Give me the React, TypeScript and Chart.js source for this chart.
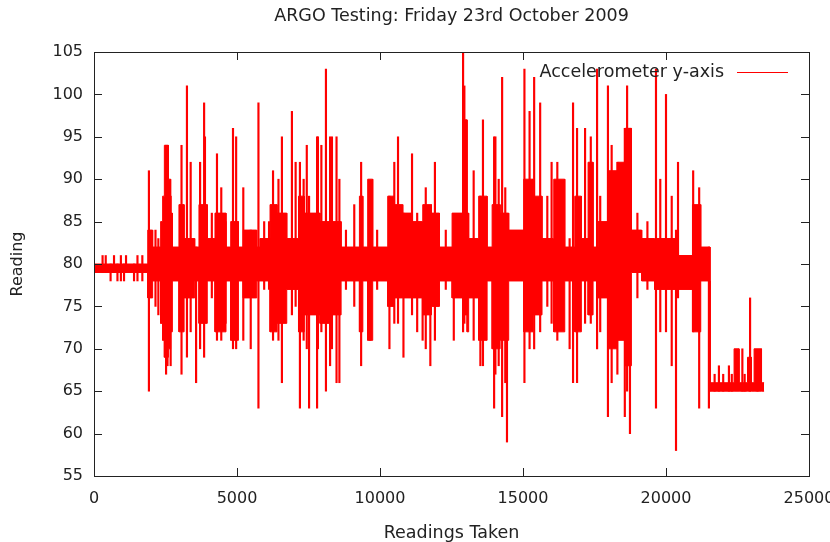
import React, { useEffect, useRef } from 'react';
import { Chart, registerables } from 'chart.js';

Chart.register(...registerables);

const TITLE = 'ARGO Testing: Friday 23rd October 2009';
const SERIES_LABEL = 'Accelerometer y-axis';
const X_TITLE = 'Readings Taken';
const Y_TITLE = 'Reading';
const X_TICKS = [0, 5000, 10000, 15000, 20000, 25000];
const Y_TICKS = [55, 60, 65, 70, 75, 80, 85, 90, 95, 100, 105];

// Dense band envelope: segment start reading, lower and upper edge (last entry = end of data)
const bandX = [0, 1880, 2050, 2330, 2400, 2460, 2600, 2680, 2740, 2970, 3150, 3520, 3670, 3960, 4230, 4615, 4780, 5050, 5220, 5690, 5800, 6155, 6400, 6740, 7150, 7350, 7550, 7900, 8300, 8640, 9280, 9400, 9570, 9745, 10270, 10500, 10795, 11100, 11495, 11800, 12080, 12520, 12890, 13045, 13100, 13450, 13745, 13920, 14200, 14500, 15025, 15350, 15665, 16075, 16460, 16810, 17040, 17275, 17450, 17625, 17975, 18300, 18560, 18790, 19150, 19600, 20400, 20925, 21215, 21540, 22380, 22555, 22850, 22990, 23080, 23340, 23430];
const bandLo = [79, 76, 78, 73, 71, 69, 70, 72, 78, 72, 76, 78, 73, 78, 72, 78, 71, 78, 76, 78, 78, 72, 73, 77, 72, 74, 74, 73, 74, 78, 72, 78, 71, 78, 75, 76, 76, 76, 74, 75, 78, 76, 74, 72, 76, 71, 78, 70, 71, 78, 72, 74, 78, 72, 78, 72, 78, 74, 78, 76, 70, 71, 68, 79, 78, 77, 77, 72, 78, 65, 65, 65, 65, 65, 65, 65, 65];
const bandHi = [80, 84, 82, 85, 88, 94, 90, 86, 82, 87, 83, 82, 87, 83, 86, 82, 85, 82, 84, 82, 83, 87, 86, 83, 88, 86, 86, 85, 85, 82, 88, 82, 90, 82, 88, 87, 86, 85, 87, 86, 82, 86, 97, 86, 83, 88, 82, 87, 86, 84, 90, 88, 83, 90, 82, 88, 83, 92, 82, 85, 91, 92, 96, 84, 83, 83, 81, 87, 82, 66, 70, 66, 69, 66, 70, 66, 66];

// Isolated spikes: reading, lowest and highest value reached
const spikeX = [300, 410, 580, 700, 820, 940, 1050, 1120, 1400, 1520, 1690, 1920, 2150, 2250, 2520, 2570, 2680, 3060, 3250, 3380, 3570, 3710, 3850, 3880, 4120, 4300, 4450, 4600, 4860, 4970, 5220, 5480, 5750, 5950, 6120, 6260, 6450, 6570, 6920, 7050, 7200, 7330, 7440, 7520, 7800, 7830, 7950, 8110, 8255, 8320, 8480, 8580, 8810, 9100, 9340, 9650, 9900, 10330, 10500, 10630, 10820, 11120, 11300, 11490, 11600, 11760, 11920, 12300, 12580, 12905, 12950, 13275, 13510, 13600, 13990, 14035, 14150, 14270, 14380, 14440, 15050, 15230, 15390, 15600, 15850, 16000, 16200, 16630, 16750, 16890, 17170, 17370, 17590, 17700, 17970, 18100, 18300, 18560, 18640, 18740, 19000, 19350, 19650, 19800, 20000, 20200, 20350, 20420, 20950, 21160, 21500, 21700, 21850, 22000, 22200, 22300, 22670, 22750, 22940, 23200];
const spikeLo = [79, 79, 78, 79, 78, 78, 78, 79, 78, 78, 78, 65, 75, 74, 67, 68, 68, 67, 69, 72, 66, 70, 69, 74, 76, 71, 71, 73, 70, 70, 71, 70, 63, 77, 77, 71, 71, 66, 74, 75, 63, 71, 70, 63, 63, 70, 72, 65, 68, 70, 66, 66, 77, 75, 68, 71, 77, 70, 73, 73, 69, 74, 72, 71, 70, 68, 71, 77, 71, 72, 73, 71, 68, 68, 63, 67, 68, 62, 66, 59, 66, 70, 70, 72, 75, 73, 71, 70, 66, 66, 73, 73, 70, 72, 62, 66, 67, 62, 65, 60, 76, 77, 63, 72, 72, 68, 58, 76, 72, 63, 63, 65, 65, 65, 65, 65, 65, 65, 65, 65];
const spikeHi = [81, 81, 80, 81, 80, 81, 80, 81, 80, 81, 81, 91, 84, 83, 94, 94, 88, 94, 101, 92, 82, 92, 99, 95, 86, 93, 89, 85, 96, 95, 89, 84, 99, 85, 85, 91, 90, 95, 98, 92, 92, 90, 94, 88, 95, 95, 94, 103, 95, 95, 95, 90, 84, 87, 92, 89, 84, 88, 92, 95, 86, 93, 86, 84, 89, 86, 92, 84, 84, 105, 101, 91, 88, 97, 95, 95, 90, 102, 89, 84, 103, 98, 102, 99, 88, 92, 92, 83, 99, 96, 96, 95, 103, 88, 101, 94, 92, 96, 101, 96, 86, 85, 103, 90, 100, 88, 84, 92, 91, 89, 82, 67, 68, 67, 68, 67, 70, 67, 76, 69];

const RED = '#ff0000';
const INK = '#222222';
const FONT = '"DejaVu Sans", sans-serif';

const bandPoints = (vals: number[]) =>
  bandX.slice(0, -1).flatMap((x, i) => [
    { x, y: vals[i] },
    { x: bandX[i + 1], y: vals[i] },
  ]);

const framePlugin = {
  id: 'gnuFrame',
  afterDatasetsDraw(chart: any) {
    const { ctx, chartArea: a, scales } = chart;
    ctx.save();
    ctx.strokeStyle = INK;
    ctx.lineWidth = 1;
    ctx.strokeRect(Math.round(a.left) + 0.5, Math.round(a.top) + 0.5, Math.round(a.right - a.left), Math.round(a.bottom - a.top));
    const L = 8;
    ctx.beginPath();
    for (const v of Y_TICKS) {
      const y = Math.round(scales.y.getPixelForValue(v)) + 0.5;
      ctx.moveTo(a.left, y);
      ctx.lineTo(a.left + L, y);
      ctx.moveTo(a.right, y);
      ctx.lineTo(a.right - L, y);
    }
    for (const v of X_TICKS) {
      const x = Math.round(scales.x.getPixelForValue(v)) + 0.5;
      ctx.moveTo(x, a.bottom);
      ctx.lineTo(x, a.bottom - L);
      ctx.moveTo(x, a.top);
      ctx.lineTo(x, a.top + L);
    }
    ctx.stroke();

    ctx.fillStyle = INK;
    ctx.font = '17.5px ' + FONT;
    ctx.textBaseline = 'middle';
    ctx.textAlign = 'center';
    ctx.fillText(TITLE, (a.left + a.right) / 2, 16);

    ctx.textAlign = 'right';
    ctx.fillText(SERIES_LABEL, a.right - 85, a.top + 20);
    ctx.strokeStyle = RED;
    ctx.beginPath();
    ctx.moveTo(a.right - 72, a.top + 20.5);
    ctx.lineTo(a.right - 21, a.top + 20.5);
    ctx.stroke();
    ctx.restore();
  },
};

export default function App() {
  const ref = useRef<HTMLCanvasElement>(null);

  useEffect(() => {
    if (!ref.current) return;
    const chart = new Chart(ref.current, {
      type: 'line',
      data: {
        datasets: [
          {
            type: 'line',
            label: SERIES_LABEL,
            data: bandPoints(bandHi),
            borderColor: RED,
            backgroundColor: RED,
            borderWidth: 1,
            pointRadius: 0,
            fill: false,
          },
          {
            type: 'line',
            label: SERIES_LABEL + ' (low)',
            data: bandPoints(bandLo),
            borderColor: RED,
            backgroundColor: RED,
            borderWidth: 1,
            pointRadius: 0,
            fill: '-1',
          },
          {
            type: 'bar',
            label: SERIES_LABEL + ' (spikes)',
            data: spikeX.map((x, i) => ({ x, y: [spikeLo[i], spikeHi[i]] })) as any,
            backgroundColor: RED,
            borderWidth: 0,
            barThickness: 1.5,
          } as any,
        ],
      },
      options: {
        responsive: false,
        animation: false,
        layout: { padding: { top: 52, right: 21, left: 0, bottom: 0 } },
        plugins: {
          legend: { display: false },
          title: { display: false },
          tooltip: { enabled: false },
        },
        scales: {
          x: {
            type: 'linear',
            min: 0,
            max: 25000,
            offset: false,
            grid: { display: false, drawTicks: false },
            border: { display: false },
            ticks: {
              stepSize: 5000,
              padding: 13,
              color: INK,
              font: { family: FONT, size: 16 },
              maxRotation: 0,
              callback: (v: any) => String(v),
            },
            title: {
              display: true,
              text: X_TITLE,
              color: INK,
              font: { family: FONT, size: 17.5 },
              padding: { top: 0, bottom: -1.5 },
            },
            afterFit(scale: any) {
              scale.height = 66;
              scale.paddingLeft = 0;
              scale.paddingRight = 0;
            },
          },
          y: {
            type: 'linear',
            min: 55,
            max: 105,
            grid: { display: false, drawTicks: false },
            border: { display: false },
            ticks: {
              stepSize: 5,
              padding: 11,
              color: INK,
              font: { family: FONT, size: 16 },
              callback: (v: any) => String(v),
            },
            title: {
              display: true,
              text: Y_TITLE,
              color: INK,
              font: { family: FONT, size: 16 },
              padding: { top: 8, bottom: 0 },
            },
            afterFit(scale: any) {
              scale.width = 94;
              scale.paddingTop = 0;
              scale.paddingBottom = 0;
            },
          },
        },
      },
      plugins: [framePlugin],
    });
    return () => chart.destroy();
  }, []);

  return (
    <div style={{ position: 'fixed', left: 0, top: 0, width: 830, height: 542, background: '#fff' }}>
      <canvas ref={ref} width={830} height={542} style={{ display: 'block' }} />
    </div>
  );
}
